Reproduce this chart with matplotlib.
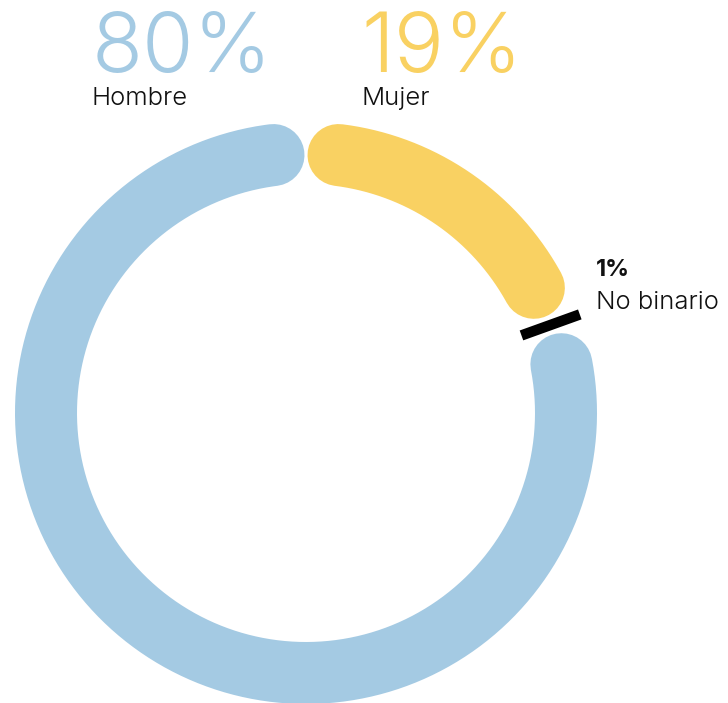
import numpy as np
import matplotlib
matplotlib.use("Agg")
import matplotlib.pyplot as plt

# data, clockwise from 12 o'clock
labels = ["Mujer", "No binario", "Hombre"]
shares = [19, 1, 80]
pct_text = ["19%", "1%", "80%"]
colors = ["#F9D162", "#000000", "#A4CAE3"]

W, H = 728, 703
cx, cy = 306, 413
r_mid = 260
ring_w = 62
gap_deg = 0.35
PT = 0.72  # px -> pt at dpi 100

fig = plt.figure(figsize=(W / 100, H / 100), dpi=100)
ax = fig.add_axes([0, 0, 1, 1])
ax.set_xlim(0, W)
ax.set_ylim(H, 0)
ax.axis("off")


def xy(deg, r):
    a = np.radians(deg)
    return cx + r * np.sin(a), cy - r * np.cos(a)


cap_deg = np.degrees((ring_w / 2) / r_mid)
start = 0.0
for lab, s, col in zip(labels, shares, colors):
    end = start + s * 3.6
    if s >= 5:
        a0 = start + gap_deg + cap_deg
        a1 = end - gap_deg - cap_deg
        t = np.linspace(a0, a1, 300)
        x, y = xy(t, r_mid)
        ax.plot(x, y, color=col, lw=ring_w * PT, solid_capstyle="round")
    else:
        # tiny slice: radial bar across the ring
        mid = (start + end) / 2
        x, y = xy(np.array([mid, mid]), np.array([r_mid - ring_w / 2, r_mid + ring_w / 2]))
        ax.plot(x, y, color=col, lw=10.5 * PT, solid_capstyle="butt")
    start = end

# big numbers and labels
big = dict(fontsize=60, family="Inter", fontweight=300, va="baseline")
small = dict(color="#111111", fontsize=18.5, family="Inter", fontweight=300, va="baseline")
ax.text(92, 72, pct_text[2], color=colors[2], **big)
ax.text(92, 105, labels[2], **small)
ax.text(361, 72, pct_text[0], color=colors[0], **big)
ax.text(361, 105, labels[0], **small)
ax.text(596, 276, pct_text[1], color="#111111", fontsize=17, family="Inter", fontweight=700, va="baseline")
ax.text(596, 309, labels[1], **small)

fig.savefig("out.png", dpi=100)
